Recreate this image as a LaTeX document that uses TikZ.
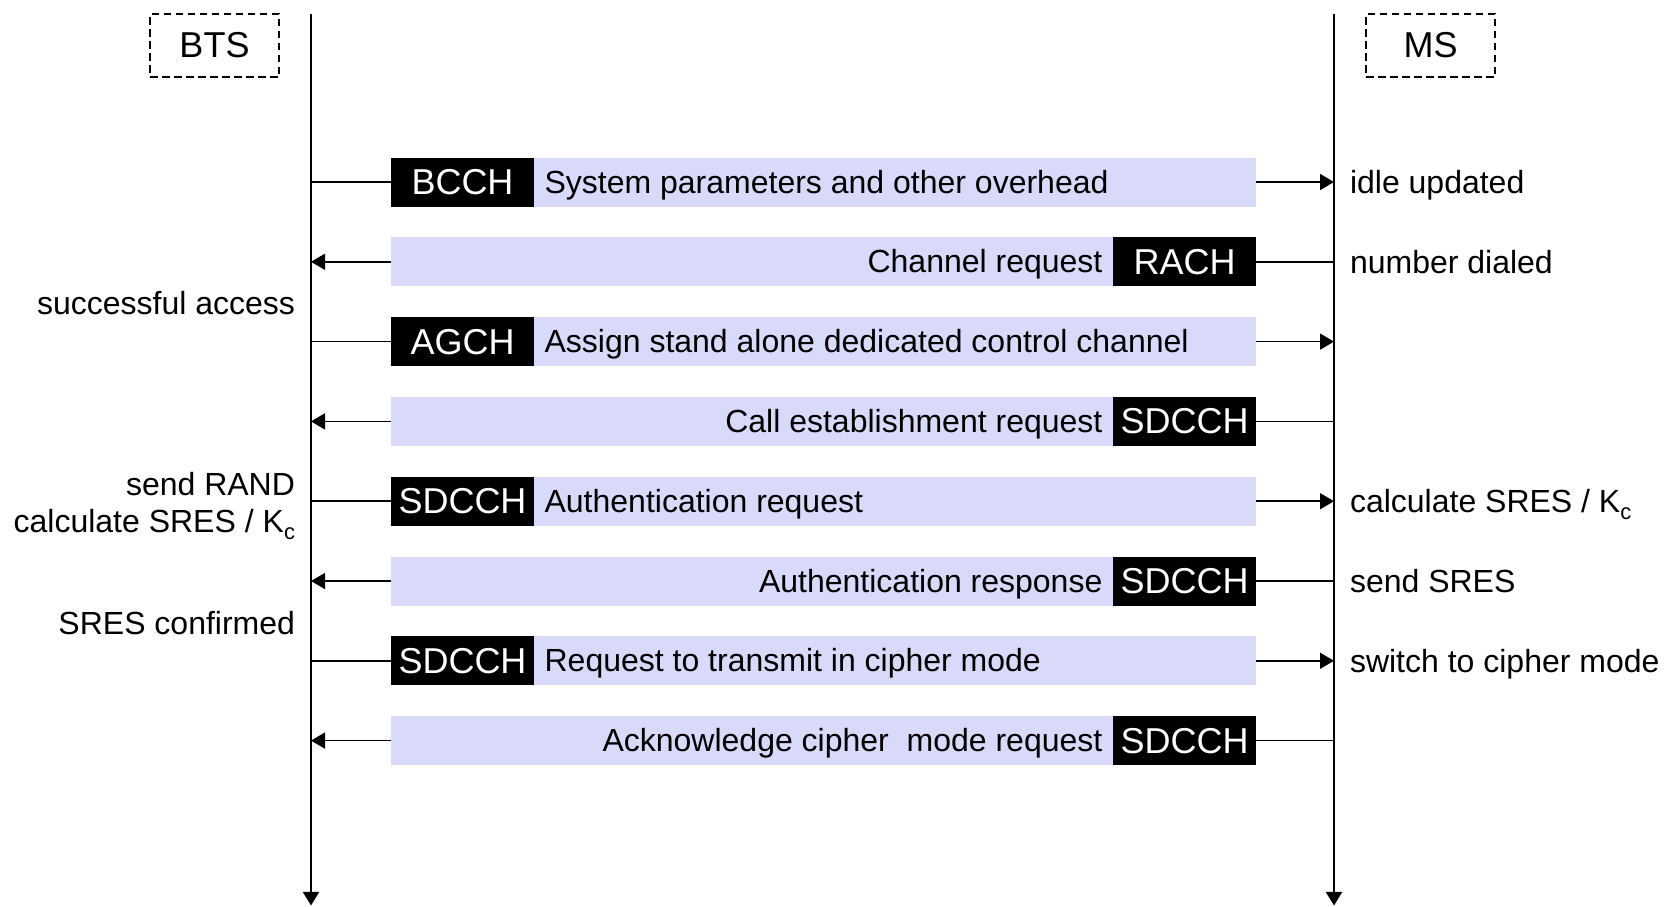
\documentclass[tikz,border=0pt]{standalone}
\usepackage{fontspec}
\setmainfont{Liberation Sans}
\usetikzlibrary{arrows.meta,positioning}
\definecolor{barfill}{RGB}{217,217,250}
\newcommand{\kcsub}{K\raisebox{-3.5pt}{\fontsize{11}{11}\selectfont c}}

\begin{document}
\begin{tikzpicture}[
    x=0.5pt, y=-0.5pt,
    node distance=15.4pt,
    outer sep=0pt,
    head/.style={rectangle, draw, line width=0.75pt, dash pattern=on 3.75pt off 2.25pt, minimum width=64.5pt, minimum height=31.5pt, font=\fontsize{18}{21}\selectfont},
    bar/.style={rectangle, fill=barfill, minimum width=432.5pt, minimum height=24.5pt, inner sep=0pt},
    chan/.style={rectangle, fill=black, text=white, minimum width=71.5pt, minimum height=24.5pt, inner sep=0pt, text height=16.3pt, text depth=3.8pt, font=\fontsize{18}{21}\selectfont},
    msg/.style={inner sep=5.3pt, text height=14.5pt, text depth=3.4pt, font=\fontsize{16}{19}\selectfont},
    note/.style={inner sep=0pt, font=\fontsize{16}{18.8}\selectfont},
    life/.style={line width=1.1pt, -{Triangle[length=6.8pt,width=8pt]}},
    link/.style={line width=0.8pt},
    arrow/.style={line width=0.8pt, -{Triangle[length=7pt,width=8pt]}}
]
\useasboundingbox (0,0) rectangle (1669,906);

% entities and lifelines
\node[head] (bts) at (214.5,45.5) {BTS};
\node[head] (ms) at (1430.5,45.5) {MS};
\coordinate (btsTop) at (311,14);
\coordinate (btsEnd) at (311,905.5);
\coordinate (msTop) at (1334,14);
\coordinate (msEnd) at (1334,905.5);
\draw[life] (btsTop) -- (btsEnd);
\draw[life] (msTop) -- (msEnd);

% message bars
\node[bar] (bar1) at (823.5,182) {};
\node[bar, below=of bar1] (bar2) {};
\node[bar, below=of bar2] (bar3) {};
\node[bar, below=of bar3] (bar4) {};
\node[bar, below=of bar4] (bar5) {};
\node[bar, below=of bar5] (bar6) {};
\node[bar, below=of bar6] (bar7) {};
\node[bar, below=of bar7] (bar8) {};

% channels and message texts
\node[chan, right=0pt of bar1.west] (ch1) {BCCH};
\node[msg, right=0pt of ch1] (msg1) {System parameters and other overhead};
\node[chan, left=0pt of bar2.east] (ch2) {RACH};
\node[msg, left=0pt of ch2] (msg2) {Channel request};
\node[chan, right=0pt of bar3.west] (ch3) {AGCH};
\node[msg, right=0pt of ch3] (msg3) {Assign stand alone dedicated control channel};
\node[chan, left=0pt of bar4.east] (ch4) {SDCCH};
\node[msg, left=0pt of ch4] (msg4) {Call establishment request};
\node[chan, right=0pt of bar5.west] (ch5) {SDCCH};
\node[msg, right=0pt of ch5] (msg5) {Authentication request};
\node[chan, left=0pt of bar6.east] (ch6) {SDCCH};
\node[msg, left=0pt of ch6] (msg6) {Authentication response};
\node[chan, right=0pt of bar7.west] (ch7) {SDCCH};
\node[msg, right=0pt of ch7] (msg7) {Request to transmit in cipher mode};
\node[chan, left=0pt of bar8.east] (ch8) {SDCCH};
\node[msg, left=0pt of ch8] (msg8) {Acknowledge cipher\ \ mode request};

% BTS to MS
\draw[link] (bar1.west -| btsTop) -- (bar1.west);
\draw[arrow] (bar1.east) -- (bar1.east -| msTop);
\draw[link] (bar3.west -| btsTop) -- (bar3.west);
\draw[arrow] (bar3.east) -- (bar3.east -| msTop);
\draw[link] (bar5.west -| btsTop) -- (bar5.west);
\draw[arrow] (bar5.east) -- (bar5.east -| msTop);
\draw[link] (bar7.west -| btsTop) -- (bar7.west);
\draw[arrow] (bar7.east) -- (bar7.east -| msTop);
% MS to BTS
\draw[link] (bar2.east -| msTop) -- (bar2.east);
\draw[arrow] (bar2.west) -- (bar2.west -| btsTop);
\draw[link] (bar4.east -| msTop) -- (bar4.east);
\draw[arrow] (bar4.west) -- (bar4.west -| btsTop);
\draw[link] (bar6.east -| msTop) -- (bar6.east);
\draw[arrow] (bar6.west) -- (bar6.west -| btsTop);
\draw[link] (bar8.east -| msTop) -- (bar8.east);
\draw[arrow] (bar8.west) -- (bar8.west -| btsTop);

% BTS side notes
\node[note, anchor=base east] (accessNote) at (295,314.5) {successful access};
\node[note, anchor=base east, align=right] (randNote) at (295,532.6) {send RAND\\calculate SRES / \kcsub};
\node[note, anchor=base east] (confNote) at (295,634) {SRES confirmed};
% MS side notes
\node[note, anchor=base west] (idleNote) at (1350,193) {idle updated};
\node[note, anchor=base west] (dialNote) at (1350,273) {number dialed};
\node[note, anchor=base west] (kcNote) at (1350,512.5) {calculate SRES / \kcsub};
\node[note, anchor=base west] (sresNote) at (1350,592) {send SRES};
\node[note, anchor=base west] (cipherNote) at (1350,672) {switch to cipher mode};
\end{tikzpicture}
\end{document}
